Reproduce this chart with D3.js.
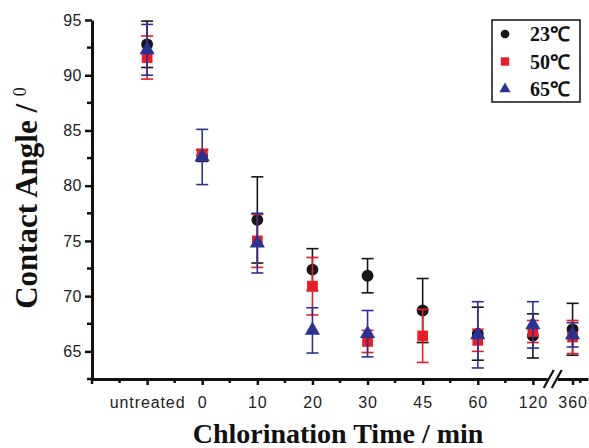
<!DOCTYPE html>
<html><head><meta charset="utf-8">
<script src="https://cdn.jsdelivr.net/npm/d3@7"></script>
<style>body{margin:0;background:#fff}svg{display:block}</style>
</head><body>
<svg id="c" width="589" height="448"></svg>
<script>
// ---- data ----
const categories = ["untreated","0","10","20","30","45","60","120","360"];
const catPos = [0,1,2,3,4,5,6,7,7.72];
const seriesNames = ["23\u2103","50\u2103","65\u2103"];
const mean23 = [92.8,82.7,76.9,72.4,71.85,68.7,66.6,66.4,67.0];
const err23  = [2.1,0.5,3.9,1.9,1.55,2.9,2.4,2.0,2.35];
const mean50 = [91.6,82.8,75.0,70.9,65.9,66.4,66.0,66.8,66.3];
const err50  = [1.95,0.5,2.4,2.6,1.0,2.4,1.0,1.0,1.5];
const mean65 = [92.3,82.6,74.8,66.9,66.6,null,66.5,67.4,66.5];
const err65  = [2.3,2.5,2.7,2.05,2.1,null,3.0,2.1,1.1];
const yTicks = [65,70,75,80,85,90,95];
const yMinor = [62.5,67.5,72.5,77.5,82.5,87.5,92.5];
const xMinor = [-0.5,0.5,1.5,2.5,3.5,4.5,5.5,6.5,7.86];

const svg = d3.select("#c");
const x = d3.scaleLinear().domain([-1,8]).range([92,588]);
const y = d3.scaleLinear().domain([62.5,95]).range([379,20]);

const colors = ["#161616","#ec1c24","#2b3192"];
const shapes = [d3.symbolCircle, d3.symbolSquare, d3.symbolTriangle];
const sizes = [110,115,100];
const means = [mean23, mean50, mean65];
const errs = [err23, err50, err65];

// axes
const yAxis = d3.axisLeft(y).tickValues(yTicks).tickSize(7).tickSizeOuter(0).tickPadding(3);
const gy = svg.append("g").attr("transform","translate(92,0)").call(yAxis);
gy.selectAll(".tick text").attr("font-family","Liberation Sans, Arial, sans-serif").attr("font-size",16).attr("fill","#222").style("letter-spacing","0.5px");
gy.selectAll(".tick line").attr("stroke","#111").attr("stroke-width",2.5);
gy.select(".domain").attr("stroke","#111").attr("stroke-width",3);
gy.selectAll(".minor").data(yMinor).enter().append("line")
  .attr("x1",0).attr("x2",-5).attr("y1",d=>y(d)).attr("y2",d=>y(d))
  .attr("stroke","#111").attr("stroke-width",2.5);

const xAxis = d3.axisBottom(x).tickValues(catPos).tickFormat((d,i)=>categories[i]).tickSize(6).tickSizeOuter(0).tickPadding(12);
const gx = svg.append("g").attr("transform","translate(0,379)").call(xAxis);
gx.selectAll(".tick text").attr("font-family","Liberation Sans, Arial, sans-serif").attr("font-size",16).attr("fill","#222").style("letter-spacing","0.9px");
gx.selectAll(".tick line").attr("stroke","#111").attr("stroke-width",2.5);
gx.select(".domain").attr("stroke","#111").attr("stroke-width",3);
gx.selectAll(".minor").data(xMinor).enter().append("line")
  .attr("x1",d=>x(d)).attr("x2",d=>x(d)).attr("y1",0).attr("y2",4)
  .attr("stroke","#111").attr("stroke-width",2.5);
// corner tick
gx.append("line").attr("x1",x(-1)).attr("x2",x(-1)).attr("y1",0).attr("y2",5).attr("stroke","#111").attr("stroke-width",2.5);

// axis break
const bx = (x(7)+x(7.72))/2 + 0;
svg.append("rect").attr("x",bx-5).attr("y",374).attr("width",10).attr("height",10).attr("fill","#fff");
[-4,4].forEach(o=>{
  svg.append("line").attr("x1",bx+o-5).attr("y1",388).attr("x2",bx+o+5).attr("y2",370)
    .attr("stroke","#111").attr("stroke-width",2.2);
});

// data series
means.forEach((m,si)=>{
  const g = svg.append("g");
  const pts = m.map((v,i)=>({v, e:errs[si][i], p:catPos[i]})).filter(d=>d.v!=null);
  pts.forEach(d=>{
    const cx = x(d.p);
    g.append("line").attr("x1",cx).attr("x2",cx).attr("y1",y(d.v+d.e)).attr("y2",y(d.v-d.e))
      .attr("stroke",colors[si]).attr("stroke-width",1.6);
    [d.v+d.e, d.v-d.e].forEach(t=>{
      g.append("line").attr("x1",cx-6).attr("x2",cx+6).attr("y1",y(t)).attr("y2",y(t))
        .attr("stroke",colors[si]).attr("stroke-width",1.6);
    });
  });
  g.selectAll("path.m").data(pts).enter().append("path")
    .attr("d", d3.symbol().type(shapes[si]).size(sizes[si]))
    .attr("transform", d=>`translate(${x(d.p)},${y(d.v)})`)
    .attr("fill",colors[si]);
});

// legend
const lg = svg.append("g");
lg.append("rect").attr("x",492).attr("y",20).attr("width",88).attr("height",82)
  .attr("fill","#fff").attr("stroke","#111").attr("stroke-width",1.5);
const lsizes = [60,70,55];
seriesNames.forEach((n,i)=>{
  const ly = 34 + i*27.5;
  lg.append("path").attr("d",d3.symbol().type(shapes[i]).size(lsizes[i]))
    .attr("transform",`translate(505,${ly})`).attr("fill",colors[i]);
  lg.append("text").attr("x",530).attr("y",ly+7).text(n)
    .attr("font-family","Liberation Serif, Times New Roman, serif").attr("font-weight","bold")
    .attr("font-size",20).attr("fill","#111");
});

// titles
svg.append("text").attr("x",338).attr("y",443).attr("text-anchor","middle")
  .attr("font-family","Liberation Serif, Times New Roman, serif").attr("font-weight","bold")
  .attr("font-size",28).attr("fill","#111").text("Chlorination Time / min");
const yt = svg.append("text").attr("transform","translate(37,198) rotate(-90)").attr("text-anchor","middle")
  .attr("font-family","Liberation Serif, Times New Roman, serif").attr("font-weight","bold")
  .attr("font-size",31).attr("fill","#111");
yt.append("tspan").text("Contact Angle / ");
yt.append("tspan").attr("font-size",18).attr("font-weight","normal").attr("dy",-11).text("0");
</script>
</body></html>
